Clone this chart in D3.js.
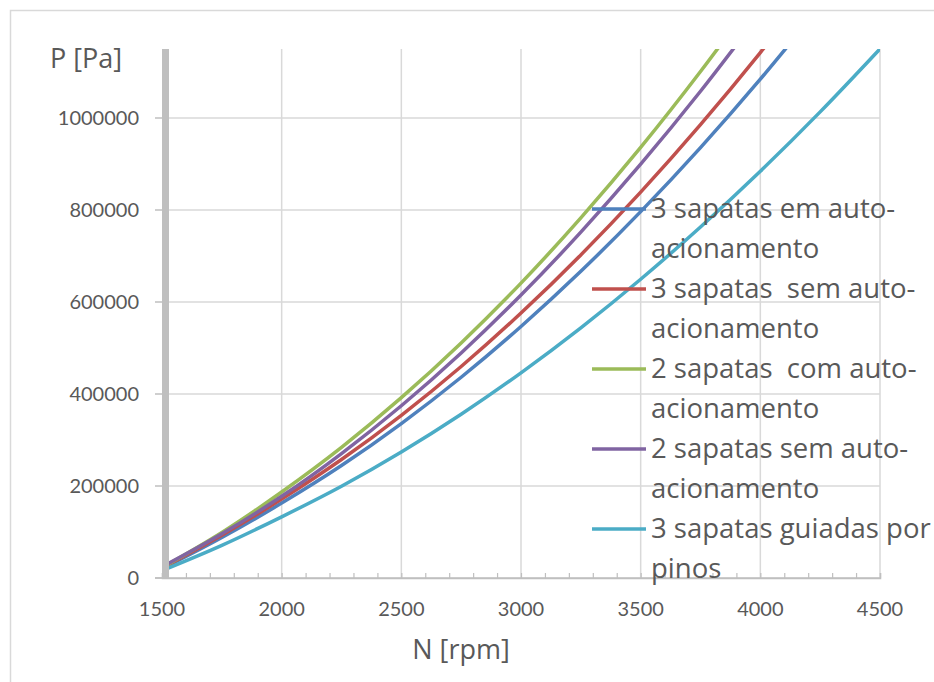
<!DOCTYPE html>
<html>
<head>
<meta charset="utf-8">
<script src="https://cdn.jsdelivr.net/npm/d3@7"></script>
<style>
  body { margin: 0; background: #fff; }
  svg { display: block; font-family: Lato, "Open Sans", sans-serif; }
</style>
</head>
<body>
<svg id="chart" width="934" height="682"></svg>
<script>
// rotacao [rpm]
let rpm = [1500, 1750, 2000, 2250, 2500, 2750, 3000, 3250, 3500, 3750, 4000, 4250, 4500]

// pressao [Pa]
let tresEmAuto   = [20000, 88000, 162800, 244400, 335600, 436400, 546800, 666800, 796400, 935600, 1084400, 1242800]
let tresSemAuto  = [21500, 93000, 171500, 257500, 353500, 459700, 576000, 702400, 838900, 985600, 1142300, 1309000]
let doisComAuto  = [22500, 99000, 187000, 284000, 392000, 511000, 641000, 783000, 936000, 1101000, 1277000]
let doisSemAuto  = [24000, 96000, 177600, 270600, 374500, 489300, 615100, 751800, 899500, 1058100, 1227600]
let tresGuiadas  = [16000, 71000, 133000, 199500, 273900, 356000, 446000, 543800, 649500, 763000, 884200, 1013300, 1150300]

let seriesNames = [
    '3 sapatas em auto-acionamento',
    '3 sapatas  sem auto-acionamento',
    '2 sapatas  com auto-acionamento',
    '2 sapatas sem auto-acionamento',
    '3 sapatas guiadas por pinos'
]
let seriesColors = ['#4f81bd', '#c0504d', '#9bbb59', '#8064a2', '#4bacc6']
let seriesValues = [tresEmAuto, tresSemAuto, doisComAuto, doisSemAuto, tresGuiadas]

let xTicks = [1500, 2000, 2500, 3000, 3500, 4000, 4500]
let yTicks = [0, 200000, 400000, 600000, 800000, 1000000]

let svg = d3.select('svg#chart')
let textColor = '#595959'
let bigFont = '"Open Sans", Lato, sans-serif'

let x = d3.scaleLinear().domain([1500, 4500]).range([162, 880])
let y = d3.scaleLinear().domain([0, 1150000]).range([578, 49])

// moldura
svg.append('rect')
    .attr('x', 10.5).attr('y', 10.5)
    .attr('width', 1000).attr('height', 1000)
    .attr('fill', 'none').attr('stroke', '#d9d9d9').attr('stroke-width', 1.5)

// grade
let grid = svg.append('g').attr('stroke', '#d9d9d9').attr('stroke-width', 1.5)
grid.selectAll('line.v')
    .data(xTicks.slice(1))
    .enter().append('line')
    .attr('x1', d => x(d)).attr('x2', d => x(d))
    .attr('y1', y.range()[1]).attr('y2', y(0))
grid.selectAll('line.h')
    .data(yTicks.slice(1))
    .enter().append('line')
    .attr('x1', x(1500)).attr('x2', x(4500))
    .attr('y1', d => y(d)).attr('y2', d => y(d))

// curvas
svg.append('clipPath').attr('id', 'plotclip')
    .append('rect')
    .attr('x', x(1500)).attr('y', y.range()[1])
    .attr('width', x(4500) - x(1500)).attr('height', y(0) - y.range()[1])

let line = d3.line()
    .x((d, i) => x(rpm[i]))
    .y(d => y(d))
    .curve(d3.curveMonotoneX)

svg.append('g')
    .attr('clip-path', 'url(#plotclip)')
    .selectAll('path')
    .data(seriesValues)
    .enter().append('path')
    .attr('d', d => line(d))
    .attr('fill', 'none')
    .attr('stroke', (d, i) => seriesColors[i])
    .attr('stroke-width', 3.5)
    .attr('stroke-linejoin', 'round')

// eixo x
let xAxis = d3.axisBottom(x)
    .tickValues(d3.range(1500, 4501, 100))
    .tickSize(-5)
    .tickFormat('')
let gx = svg.append('g').attr('transform', `translate(0,${y(0)})`).call(xAxis)
gx.select('.domain').attr('stroke', '#bfbfbf').attr('stroke-width', 1.5)
gx.selectAll('.tick line').attr('stroke', '#bfbfbf').attr('stroke-width', 1.2)

svg.append('line')
    .attr('x1', 155).attr('x2', x(4500))
    .attr('y1', y(0)).attr('y2', y(0))
    .attr('stroke', '#bfbfbf').attr('stroke-width', 1.5)

svg.append('g')
    .selectAll('text')
    .data(xTicks)
    .enter().append('text')
    .attr('x', d => x(d))
    .attr('y', 616)
    .attr('text-anchor', 'middle')
    .attr('font-size', 20)
    .attr('fill', textColor)
    .text(d => d)

// eixo y
svg.append('g')
    .selectAll('line')
    .data(yTicks)
    .enter().append('line')
    .attr('x1', 155).attr('x2', x(1500))
    .attr('y1', d => y(d)).attr('y2', d => y(d))
    .attr('stroke', '#bfbfbf').attr('stroke-width', 1.5)

svg.append('rect')
    .attr('x', x(1500)).attr('y', y.range()[1])
    .attr('width', 7).attr('height', y(0) - y.range()[1])
    .attr('fill', '#bfbfbf')

svg.append('g')
    .selectAll('text')
    .data(yTicks)
    .enter().append('text')
    .attr('x', 139)
    .attr('y', d => y(d))
    .attr('dy', '0.35em')
    .attr('text-anchor', 'end')
    .attr('font-size', 20)
    .attr('fill', textColor)
    .text(d => d)

// titulos dos eixos
svg.append('text')
    .attr('x', 50).attr('y', 68)
    .attr('font-size', 27)
    .attr('font-family', bigFont)
    .attr('fill', textColor)
    .text('P [Pa]')

svg.append('text')
    .attr('x', 461).attr('y', 659)
    .attr('text-anchor', 'middle')
    .attr('font-size', 27)
    .attr('font-family', bigFont)
    .attr('fill', textColor)
    .text('N [rpm]')

// legenda
let legendX = 592, legendY = 209, legendStep = 80, maxW = 285
let legendSize = 27.5

let wrapLines = (name, measure) => {
    let parts = name.split(/(?<=[- ])/)
    let lines = [], cur = ''
    parts.forEach(p => {
        let test = cur + p
        measure.text(test.replace(/ +$/, ''))
        if (cur && measure.node().getComputedTextLength() > maxW) {
            lines.push(cur.replace(/ +$/, ''))
            cur = p.replace(/^ +/, '')
        } else {
            cur = test
        }
    })
    lines.push(cur.replace(/ +$/, ''))
    return lines
}

let legend = svg.append('g')
let measure = legend.append('text')
    .attr('font-size', legendSize).attr('font-family', bigFont).style('white-space', 'pre')

let items = legend.selectAll('g.item')
    .data(seriesNames)
    .enter().append('g')
    .attr('class', 'item')
    .attr('transform', (d, i) => `translate(${legendX},${legendY + i * legendStep})`)

items.append('line')
    .attr('x1', 0).attr('x2', 54)
    .attr('y1', 0).attr('y2', 0)
    .attr('stroke', (d, i) => seriesColors[i])
    .attr('stroke-width', 3.5)

items.each(function(d) {
    let lines = wrapLines(d, measure)
    d3.select(this).selectAll('text')
        .data(lines)
        .enter().append('text')
        .attr('x', 59)
        .attr('y', (l, j) => 9 + j * 40)
        .attr('font-size', legendSize)
        .attr('font-family', bigFont)
        .attr('fill', textColor)
        .style('white-space', 'pre')
        .text(l => l)
})
measure.remove()
</script>
</body>
</html>
